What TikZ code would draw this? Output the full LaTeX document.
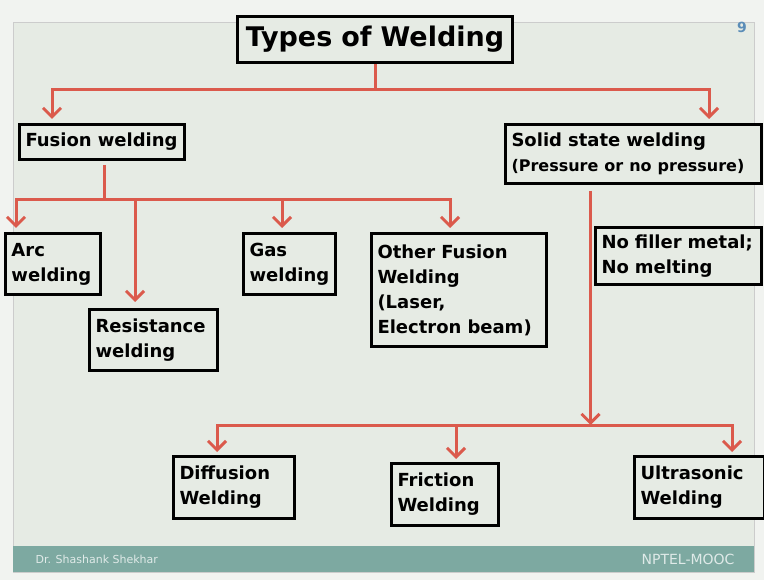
\documentclass[tikz,border=0pt]{standalone}
\usepackage{fontspec}
\setmainfont{DejaVu Sans}
\usetikzlibrary{arrows.meta,positioning}
\definecolor{SlideBg}{HTML}{E6EBE4}
\definecolor{PageBg}{HTML}{F1F3F0}
\definecolor{LinkRed}{HTML}{DB5A4C}
\definecolor{BarTeal}{HTML}{7DA9A1}
\definecolor{NumBlue}{HTML}{5B8DB8}

\begin{document}
\begin{tikzpicture}[x=1pt, y=-1pt,
                    >={Straight Barb[length=9pt,width=18pt,line width=3pt]},
                    box/.style={draw=black, line width=3pt, fill=SlideBg, anchor=north west,
                                align=left, inner xsep=6pt, inner ysep=2pt,
                                font=\bfseries\fontsize{18}{25}\selectfont},
                    link/.style={draw=LinkRed, line width=3pt}]
  % slide background
  \useasboundingbox (0,0) rectangle (764,580);
  \fill[PageBg] (0,0) rectangle (764,580);
  \filldraw[fill=SlideBg, draw=black!20] (13,22) rectangle (754,572);
  \fill[BarTeal] (13,546) rectangle (754,572);
  \node[anchor=west, text=white!75!BarTeal, font=\fontsize{11}{11}\selectfont] (author) at (32,559) {Dr. Shashank Shekhar};
  \node[anchor=east, text=white!75!BarTeal, font=\fontsize{14}{14}\selectfont] (mooc) at (738,559) {NPTEL-MOOC};
  \node[text=NumBlue, font=\bfseries\fontsize{14}{14}\selectfont] (pagenum) at (742,27) {9};

  % boxes
  \node[box, text width=263pt, minimum height=46pt, align=center, font=\bfseries\fontsize{27}{30}\selectfont] (title) at (236,15) {Types of Welding};
  \node[box, text width=153pt, minimum height=35pt] (fusion) at (18,123) {Fusion welding};
  \node[box, text width=244pt, minimum height=59pt] (solid) at (504,123) {Solid state welding\\\mbox{\fontsize{16}{25}\selectfont(Pressure or no pressure)}};
  \node[box, text width=83pt, minimum height=61pt] (arc) at (4,232) {Arc\\welding};
  \node[box, text width=116pt, minimum height=61pt] (resist) at (88,308) {Resistance\\welding};
  \node[box, text width=80pt, minimum height=61pt] (gas) at (242,232) {Gas\\welding};
  \node[box, text width=163pt, minimum height=113pt] (other) at (370,232) {Other Fusion\\Welding\\(Laser,\\Electron beam)};
  \node[box, text width=154pt, minimum height=57pt] (nofill) at (594,226) {No filler metal;\\No melting};
  \node[box, text width=109pt, minimum height=62pt] (diffusion) at (172,455) {Diffusion\\Welding};
  \node[box, text width=95pt, minimum height=62pt] (friction) at (390,462) {Friction\\Welding};
  \node[box, text width=118pt, minimum height=62pt] (ultra) at (633,455) {Ultrasonic\\Welding};

  % connectors
  \coordinate (topbus) at (title.south |- 0,90);
  \draw[link] (title.south) -- (topbus);
  \draw[link, ->, shorten >=4pt] (topbus) -| ([xshift=34pt]fusion.north west);
  \draw[link, ->, shorten >=4pt] (topbus) -| ([xshift=-54pt]solid.north east);

  \coordinate (fbus) at ([xshift=2pt]fusion.south |- 0,200);
  \draw[link] ([xshift=2pt,yshift=-4pt]fusion.south) -- (fbus);
  \draw[link, ->, shorten >=4pt] (fbus) -| ([xshift=12pt]arc.north west);
  \draw[link, ->, shorten >=6pt] (fbus) -| ([xshift=47pt]resist.north west);
  \draw[link, ->, shorten >=4pt] (fbus) -| ([xshift=40pt]gas.north west);
  \draw[link, ->, shorten >=4pt] (fbus) -| ([xshift=80pt]other.north west);

  \coordinate (sbus) at ([xshift=-43pt]solid.south |- 0,425);
  \draw[link, ->] ([xshift=-43pt,yshift=-6pt]solid.south) -- (sbus);
  \draw[link, ->, shorten >=3pt] (sbus) -| ([xshift=45pt]diffusion.north west);
  \draw[link, ->, shorten >=3pt] (sbus) -| ([xshift=66pt]friction.north west);
  \draw[link, ->, shorten >=3pt] (sbus) -| ([xshift=99pt]ultra.north west);
\end{tikzpicture}
\end{document}
